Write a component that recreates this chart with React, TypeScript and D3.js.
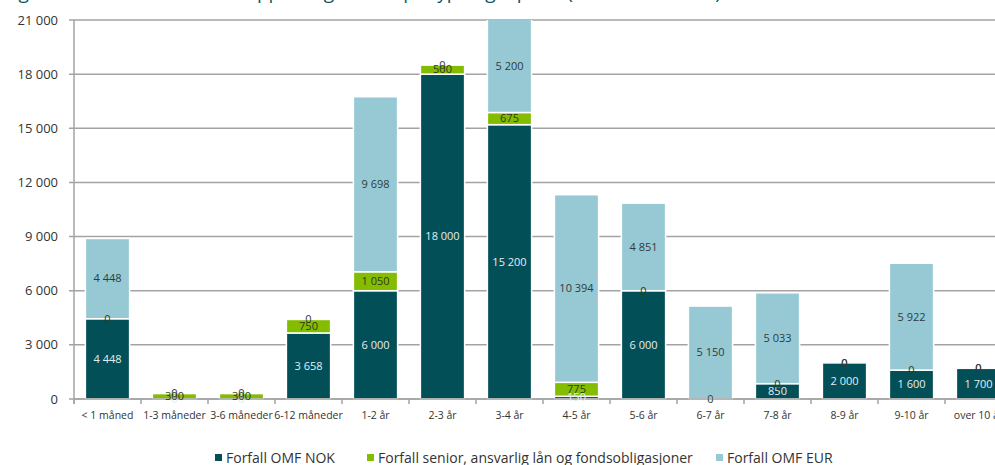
import React from "react";
import * as d3 from "d3";

// Maturity buckets
const categories = [
  "< 1 måned",
  "1-3 måneder",
  "3-6 måneder",
  "6-12 måneder",
  "1-2 år",
  "2-3 år",
  "3-4 år",
  "4-5 år",
  "5-6 år",
  "6-7 år",
  "7-8 år",
  "8-9 år",
  "9-10 år",
  "over 10 år",
];

// Maturities per bucket (MNOK)
const omfNok = [4448, 0, 0, 3658, 6000, 18000, 15200, 150, 6000, 0, 850, 2000, 1600, 1700];
const seniorDebt = [0, 300, 300, 750, 1050, 500, 675, 775, 0, 0, 0, 0, 0, 0];
const omfEur = [4448, 0, 0, 0, 9698, 0, 5200, 10394, 4851, 5150, 5033, 0, 5922, 0];

const yTicks = [0, 3000, 6000, 9000, 12000, 15000, 18000, 21000];

const seriesKeys = ["nok", "senior", "eur"];
const seriesNames = [
  "Forfall OMF NOK",
  "Forfall senior, ansvarlig lån og fondsobligasjoner",
  "Forfall OMF EUR",
];
const seriesColors = ["#034f58", "#84bd00", "#96c9d4"];
const labelColors = ["#e3eef0", "#2e3a1a", "#2f3b40"];

const titleText =
  "Figur 9: Forfallsstruktur for opplåning fordelt på type og løpetid (millioner kroner)";

const W = 995;
const H = 465;
const plot = { left: 74, right: 1012, top: 20, bottom: 399 };

const locale = d3.formatLocale({
  decimal: ",",
  thousands: "\u00a0",
  grouping: [3],
  currency: ["", " kr"],
});
const fmt = locale.format(",d");

export default function App() {
  const rows = categories.map((c, i) => ({
    cat: c,
    nok: omfNok[i],
    senior: seniorDebt[i],
    eur: omfEur[i],
  }));
  const stacked = d3.stack<any>().keys(seriesKeys)(rows);

  const x = d3
    .scaleBand<string>()
    .domain(categories)
    .range([plot.left, plot.right])
    .paddingInner(0.34)
    .paddingOuter(0.17);
  const y = d3.scaleLinear().domain([0, 21000]).range([plot.bottom, plot.top]);

  const step = x.step();
  const boundaries = d3.range(categories.length + 1).map(
    (i) => plot.left + (plot.right - plot.left) * (i / categories.length)
  );

  const font = "'Open Sans', 'Noto Sans', sans-serif";

  return (
    <div style={{ position: "fixed", left: 0, top: 0 }}>
      <svg width={W} height={H} style={{ display: "block", fontFamily: font }}>
        <defs>
          <clipPath id="plot-clip">
            <rect x={plot.left} y={plot.top} width={plot.right - plot.left} height={plot.bottom - plot.top + 2} />
          </clipPath>
        </defs>
        <rect width={W} height={H} fill="#fff" />

        {/* title, sitting above the visible frame */}
        <text x={4} y={-1} fontSize={19} fill="#0b5560">
          {titleText}
        </text>

        {/* gridlines and y ticks */}
        {yTicks.map((t) => (
          <g key={t}>
            <line
              x1={plot.left - 5}
              x2={W}
              y1={y(t)}
              y2={y(t)}
              stroke="#a3a3a3"
              strokeWidth={1.5}
            />
            <text
              x={58}
              y={y(t)}
              dy="0.35em"
              textAnchor="end"
              fontSize={13}
              fill="#333"
            >
              {fmt(t)}
            </text>
          </g>
        ))}

        {/* y axis line */}
        <line
          x1={plot.left}
          x2={plot.left}
          y1={plot.top}
          y2={plot.bottom + 5}
          stroke="#a3a3a3"
          strokeWidth={1.5}
        />

        {/* stacked bars */}
        <g clipPath="url(#plot-clip)">
          {stacked.map((s, si) =>
            s.map((d, i) => {
              const h = y(d[0]) - y(d[1]);
              if (h <= 0) return null;
              return (
                <rect
                  key={`${si}-${i}`}
                  x={x(categories[i])}
                  y={y(d[1])}
                  width={x.bandwidth()}
                  height={h}
                  fill={seriesColors[si]}
                  stroke="#fff"
                  strokeWidth={1.5}
                />
              );
            })
          )}
        </g>

        {/* x axis with boundary ticks */}
        <line
          x1={plot.left}
          x2={W}
          y1={plot.bottom}
          y2={plot.bottom}
          stroke="#a3a3a3"
          strokeWidth={1.5}
        />
        {boundaries.map((bx, i) => (
          <line
            key={i}
            x1={bx}
            x2={bx}
            y1={plot.bottom}
            y2={plot.bottom + 5}
            stroke="#a3a3a3"
            strokeWidth={1.5}
          />
        ))}

        {/* value labels */}
        {stacked.map((s, si) =>
          s.map((d, i) => {
            const v = rows[i][seriesKeys[si] as "nok" | "senior" | "eur"];
            const cy = y((d[0] + Math.min(d[1], 21000)) / 2);
            return (
              <text
                key={`l-${si}-${i}`}
                x={(x(categories[i]) as number) + x.bandwidth() / 2}
                y={cy}
                dy="0.35em"
                textAnchor="middle"
                fontSize={11}
                fill={labelColors[si]}
              >
                {fmt(v)}
              </text>
            );
          })
        )}

        {/* category labels */}
        {categories.map((c) => (
          <text
            key={c}
            x={(x(c) as number) + x.bandwidth() / 2}
            y={415}
            dy="0.35em"
            textAnchor="middle"
            fontSize={10.5}
            fill="#333"
          >
            {c}
          </text>
        ))}

        {/* legend */}
        {(() => {
          const starts = [215, 367, 716];
          return seriesNames.map((n, i) => (
            <g key={n}>
              <rect x={starts[i]} y={454} width={7} height={7} fill={seriesColors[i]} />
              <text x={starts[i] + 11} y={458} dy="0.35em" fontSize={14} fill="#333">
                {n}
              </text>
            </g>
          ));
        })()}
      </svg>
    </div>
  );
}
